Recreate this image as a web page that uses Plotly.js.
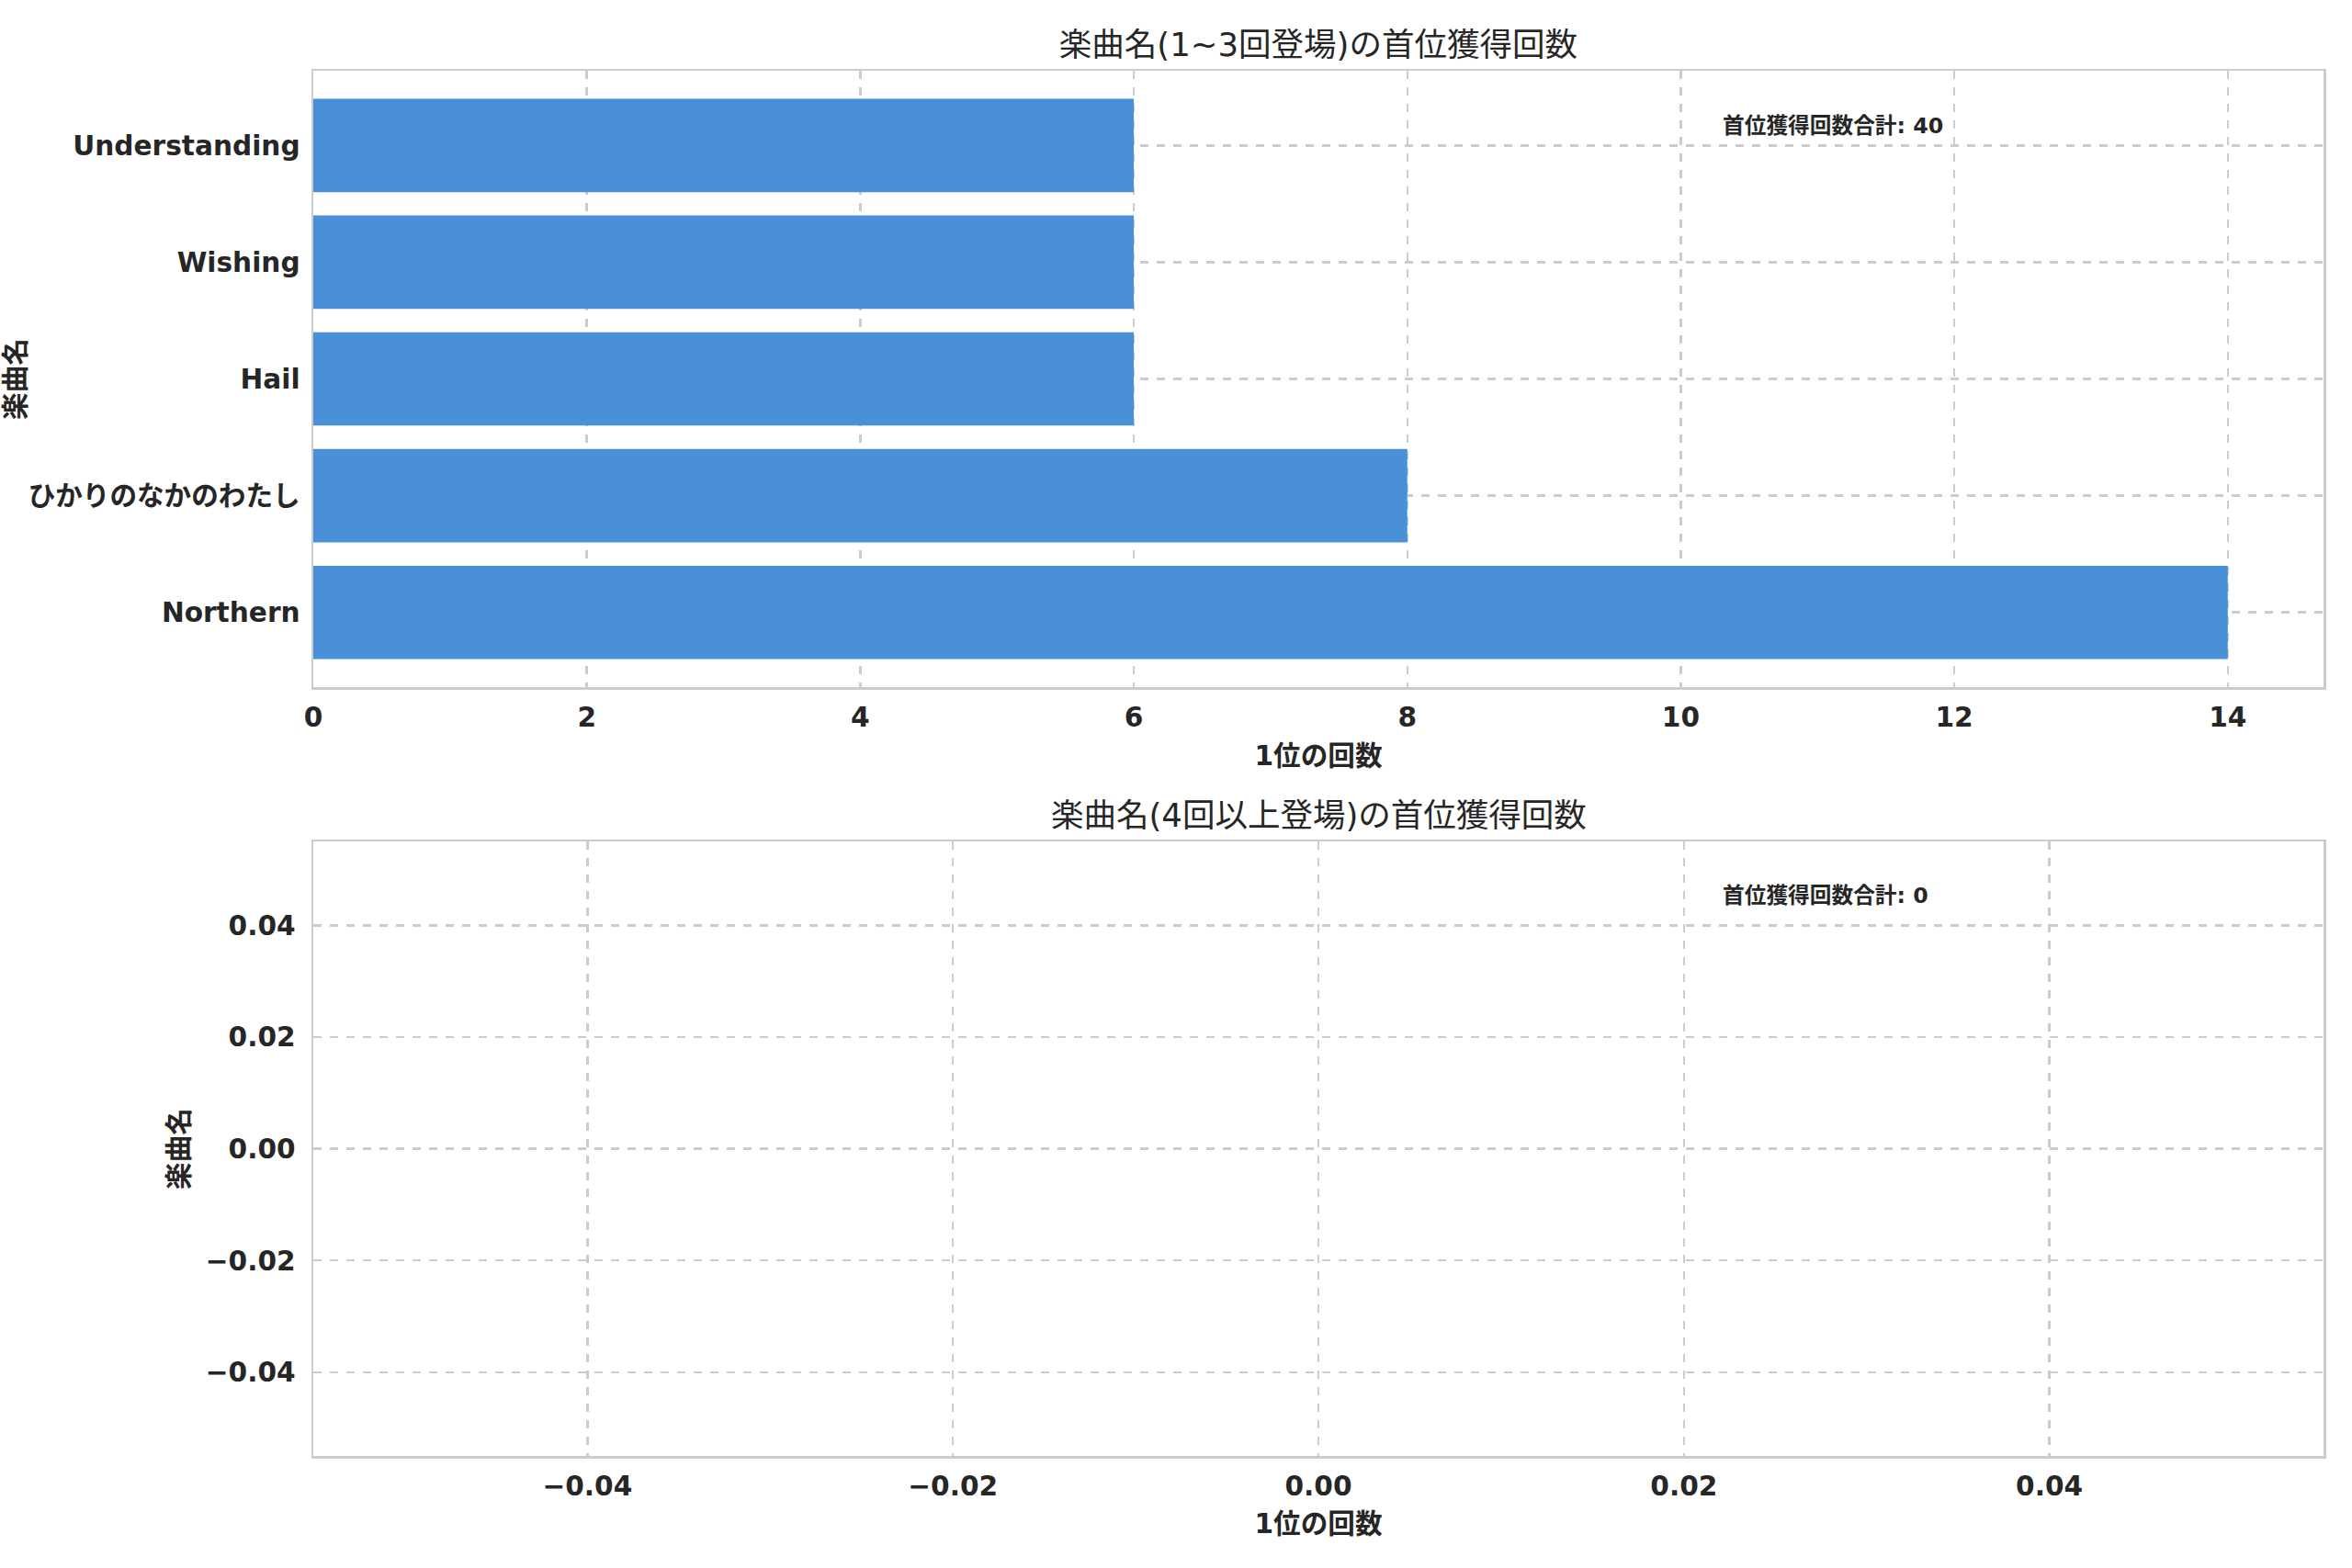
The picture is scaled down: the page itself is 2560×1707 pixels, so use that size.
<!DOCTYPE html>
<html>
<head>
<meta charset="utf-8">
<script src="https://cdn.plot.ly/plotly-3.0.1.min.js"></script>
<style>html,body{margin:0;padding:0;background:#fff;}#chart{width:2560px;height:1707px;}</style>
</head>
<body>
<div id="chart"></div>
<script>
// ---- data ----
const categories = ["Northern", "ひかりのなかのわたし", "Hail", "Wishing", "Understanding"];
const firstPlaceCounts = [14, 8, 6, 6, 6];
const bottomCategories = [];
const bottomCounts = [];
const topTitle = "楽曲名(1~3回登場)の首位獲得回数";
const bottomTitle = "楽曲名(4回以上登場)の首位獲得回数";
const xLabel = "1位の回数";
const yLabel = "楽曲名";
const totalLabel = "首位獲得回数合計";
const topTotal = firstPlaceCounts.reduce((a, b) => a + b, 0);
const bottomTotal = bottomCounts.reduce((a, b) => a + b, 0);

const FONT = "DejaVu Sans, Noto Sans CJK JP, sans-serif";
const TXT = "#262626";
const GRID = "#cccccc";

const traces = [
  {
    type: "bar", orientation: "h",
    x: firstPlaceCounts, y: categories,
    marker: {color: "#4a90d9", line: {width: 0}},
    xaxis: "x", yaxis: "y", hoverinfo: "x+y"
  },
  {
    type: "scatter", mode: "markers",
    x: bottomCounts, y: bottomCategories,
    xaxis: "x2", yaxis: "y2", showlegend: false
  }
];

const tickfont = {family: FONT, size: 29.6, color: TXT, weight: "bold"};
const titlefont = {family: FONT, size: 29.6, color: TXT, weight: "bold"};
const commonAxis = {
  showgrid: true, gridcolor: GRID, gridwidth: 2.5, griddash: "dash",
  showline: true, linecolor: GRID, linewidth: 2.5, mirror: true,
  zeroline: false, ticks: "", tickfont: tickfont, automargin: false
};

const layout = {
  width: 2560, height: 1707,
  paper_bgcolor: "#ffffff", plot_bgcolor: "#ffffff",
  showlegend: false,
  bargap: 0.2,
  margin: {l: 341, r: 31, t: 77, b: 122, pad: 0},
  font: {family: FONT, color: TXT},
  title: {
    text: topTitle, x: 0.5605, xanchor: "center",
    y: 1 - 49 / 1707, yanchor: "middle", yref: "container",
    font: {family: FONT, size: 35.5, color: TXT}
  },
  xaxis: Object.assign({}, commonAxis, {
    domain: [0, 1], anchor: "y",
    range: [0, 14.7], dtick: 2, tick0: 0, ticklabelstandoff: 5,
    title: {text: xLabel, font: titlefont, standoff: 15}
  }),
  yaxis: Object.assign({}, commonAxis, {
    domain: [0.555, 1], anchor: "x",
    type: "category", range: [-0.64, 4.64], ticklabelstandoff: 6,
    title: {text: yLabel, font: titlefont, standoff: 4}
  }),
  xaxis2: Object.assign({}, commonAxis, {
    domain: [0, 1], anchor: "y2",
    range: [-0.055, 0.055], dtick: 0.02, tick0: 0, tickformat: ".2f", ticklabelstandoff: 5,
    title: {text: xLabel, font: titlefont, standoff: 15}
  }),
  yaxis2: Object.assign({}, commonAxis, {
    domain: [0, 0.4436], anchor: "x2",
    range: [-0.055, 0.055], dtick: 0.02, tick0: 0, tickformat: ".2f", ticklabelstandoff: 11,
    title: {text: yLabel, font: titlefont, standoff: 10}
  }),
  annotations: [
    {
      text: bottomTitle, xref: "paper", yref: "paper",
      x: 0.5, y: (1585 - 887) / 1508, xanchor: "center", yanchor: "middle",
      showarrow: false, font: {family: FONT, size: 35.5, color: TXT}
    },
    {
      text: totalLabel + ": " + topTotal, xref: "paper", yref: "paper",
      x: 0.70, y: 1 - 60 / 1508, xanchor: "left", yanchor: "middle",
      showarrow: false, font: {family: FONT, size: 23.7, color: TXT, weight: "bold"}
    },
    {
      text: totalLabel + ": " + bottomTotal, xref: "paper", yref: "paper",
      x: 0.70, y: (1585 - 975) / 1508, xanchor: "left", yanchor: "middle",
      showarrow: false, font: {family: FONT, size: 23.7, color: TXT, weight: "bold"}
    }
  ]
};

Plotly.newPlot("chart", traces, layout, {displayModeBar: false, staticPlot: true});
</script>
</body>
</html>
